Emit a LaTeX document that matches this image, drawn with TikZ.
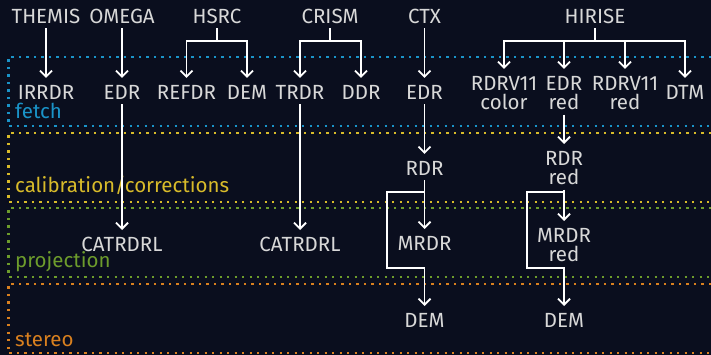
\documentclass[tikz,border=0pt]{standalone}
\usepackage{fontspec}
\setmainfont{Fira Sans}
\usetikzlibrary{arrows.meta}
\definecolor{bgdark}{HTML}{0A0E1E}
\definecolor{ink}{HTML}{D8D8D8}
\definecolor{fetchcol}{HTML}{1A93C8}
\definecolor{calibcol}{HTML}{D8BB2A}
\definecolor{projcol}{HTML}{6D9C2C}
\definecolor{stereocol}{HTML}{D9801F}
\begin{document}
\begin{tikzpicture}[x=1pt,y=-1pt,
        prod/.style={anchor=north,inner sep=0pt,text=ink,font=\fontsize{20.5}{19}\selectfont,text height=14.1pt,text depth=0pt},
        prodtwo/.style={anchor=north,inner sep=0pt,text=ink,font=\fontsize{20.5}{19}\selectfont,align=center},
        flow/.style={draw=white,line width=1.8pt,-{Straight Barb[length=6pt,width=12pt]},shorten <=5pt,shorten >=7pt},
        layer/.style={line width=2.2pt,dash pattern=on 2.2pt off 5.3pt},
        tag/.style={anchor=base west,inner sep=0pt,font=\fontsize{20.5}{19}\selectfont}]
    \useasboundingbox (0,0) rectangle (711,355);
    \fill [bgdark] (0,0) rectangle (711,355);
    \draw [layer,fetchcol] (711,57) -| (8.5,126) -- (711,126);
    \draw [layer,calibcol] (711,133) -| (8.5,202) -- (711,202);
    \draw [layer,projcol] (711,208) -| (8.5,277) -- (711,277);
    \draw [layer,stereocol] (711,284) -| (8.5,353) -- (711,353);
    \node [tag,text=fetchcol] (fetchtag) at (15,119) {fetch};
    \node [tag,text=calibcol] (calibtag) at (15,193) {calibration/corrections};
    \node [tag,text=projcol] (projtag) at (15,267) {projection};
    \node [tag,text=stereocol] (stereotag) at (15,346) {stereo};
    \node [prod] (themis) at (46,8.9) {THEMIS};
    \node [prod] (omega) at (122,8.9) {OMEGA};
    \node [prod] (hsrc) at (217,8.9) {HSRC};
    \node [prod] (crism) at (330,8.9) {CRISM};
    \node [prod] (ctx) at (424.5,8.9) {CTX};
    \node [prod] (hirise) at (595,8.9) {HIRISE};
    \node [prod] (irrdr) at (46,84.9) {IRRDR};
    \node [prod] (omegaedr) at (122,84.9) {EDR};
    \node [prod] (refdr) at (186.5,84.9) {REFDR};
    \node [prod] (hsrcdem) at (247,84.9) {DEM};
    \node [prod] (trdr) at (300,84.9) {TRDR};
    \node [prod] (ddr) at (361,84.9) {DDR};
    \node [prod] (ctxedr) at (424.5,84.9) {EDR};
    \node [prodtwo] (rdrcolor) at (504,75.9) {RDRV11\\color};
    \node [prodtwo] (edrred) at (564,75.9) {EDR\\red};
    \node [prodtwo] (rdrv11red) at (625,75.9) {RDRV11\\red};
    \node [prod] (dtm) at (685,84.9) {DTM};
    \node [prod] (ctxrdr) at (424.5,160.9) {RDR};
    \node [prodtwo] (rdrred) at (564,151) {RDR\\red};
    \node [prod] (omegacat) at (122,237) {CATRDRL};
    \node [prod] (crismcat) at (300,237) {CATRDRL};
    \node [prod] (ctxmrdr) at (424.5,236) {MRDR};
    \node [prodtwo] (mrdrred) at (564,228) {MRDR\\red};
    \node [prod] (ctxdem) at (424.5,313) {DEM};
    \node [prod] (hirisedem) at (564,313) {DEM};
    \coordinate (ctxbend) at (387,192);
    \coordinate (ctxback) at (424.5,268);
    \coordinate (hirisebend) at (527,192);
    \coordinate (hiriseback) at (564,268);
    \draw [flow] (themis.south) -- (irrdr.north);
    \draw [flow] (omega.south) -- (omegaedr.north);
    \draw [flow] (hsrc.south) -- ++(0,18) -| (refdr.north);
    \draw [flow] (hsrc.south) -- ++(0,18) -| (hsrcdem.north);
    \draw [flow] (crism.south) -- ++(0,18) -| (trdr.north);
    \draw [flow] (crism.south) -- ++(0,18) -| (ddr.north);
    \draw [flow] (ctx.south) -- (ctxedr.north);
    \draw [flow] (hirise.south) -- ++(0,18) -| (rdrcolor.north);
    \draw [flow] (hirise.south) -- ++(0,18) -| (edrred.north);
    \draw [flow] (hirise.south) -- ++(0,18) -| (rdrv11red.north);
    \draw [flow] (hirise.south) -- ++(0,18) -| (dtm.north);
    \draw [flow] (omegaedr.south) -- (omegacat.north);
    \draw [flow] (trdr.south) -- (crismcat.north);
    \draw [flow] (ctxedr.south) -- (ctxrdr.north);
    \draw [flow] (ctxrdr.south) -- (ctxmrdr.north);
    \draw [flow] (ctxrdr.south) |- (ctxbend) |- (ctxback) -- (ctxdem.north);
    \draw [flow] (edrred.south) -- (rdrred.north);
    \draw [flow] (rdrred.south) -- (mrdrred.north);
    \draw [flow] (rdrred.south) |- (hirisebend) |- (hiriseback) -- (hirisedem.north);
\end{tikzpicture}
\end{document}
